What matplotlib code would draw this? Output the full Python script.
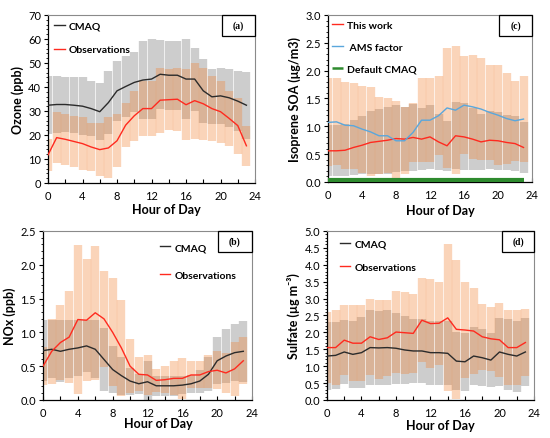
import numpy as np
import matplotlib
matplotlib.use('Agg')
import matplotlib.pyplot as plt
from matplotlib.patches import Rectangle
from matplotlib.ticker import MultipleLocator

plt.rcParams['font.family'] = ['Lato', 'DejaVu Sans']

hours = np.arange(24)

# (a) ozone, ppb
o3_cmaq = [32.4, 32.7, 32.7, 32.4, 32.0, 31.0, 29.7, 33.5, 38.4, 40.2, 41.9, 42.9,
           43.3, 45.3, 44.9, 44.9, 43.3, 43.3, 38.4, 35.9, 36.3, 35.5, 34.1, 32.4]
o3_cmaq_sd = [12.0, 11.7, 11.5, 11.7, 12.0, 11.6, 11.9, 13.2, 12.5, 12.8, 12.5, 16.3,
              16.7, 14.3, 14.4, 14.4, 16.7, 13.1, 13.2, 11.5, 11.8, 12.2, 12.6, 13.9]
o3_obs = [11.7, 18.9, 18.2, 17.3, 16.4, 15.0, 13.9, 14.6, 17.6, 24.1, 28.0, 31.0,
          31.0, 34.5, 34.7, 34.9, 32.6, 34.3, 33.0, 31.0, 29.7, 26.9, 23.9, 15.5]
o3_obs_sd = [6.5, 10.5, 10.5, 10.7, 10.9, 10.0, 11.0, 12.7, 11.1, 9.2, 10.4, 11.6,
             11.6, 13.5, 12.6, 13.1, 14.8, 15.9, 15.0, 13.6, 12.9, 11.5, 11.7, 8.4]

# (b) NOx, ppb
nox_cmaq = [0.73, 0.75, 0.72, 0.75, 0.77, 0.80, 0.75, 0.60, 0.45, 0.36, 0.28, 0.24,
            0.27, 0.21, 0.21, 0.21, 0.22, 0.24, 0.28, 0.38, 0.58, 0.65, 0.70, 0.72]
nox_cmaq_sd = [0.45, 0.43, 0.46, 0.43, 0.41, 0.38, 0.43, 0.47, 0.35, 0.28, 0.20, 0.15,
               0.30, 0.15, 0.15, 0.15, 0.13, 0.13, 0.17, 0.25, 0.35, 0.40, 0.42, 0.45]
nox_obs = [0.50, 0.72, 0.85, 0.93, 1.19, 1.18, 1.29, 1.20, 1.00, 0.77, 0.50, 0.38,
           0.37, 0.29, 0.30, 0.32, 0.32, 0.37, 0.37, 0.42, 0.44, 0.40, 0.46, 0.58]
nox_obs_sd = [0.28, 0.48, 0.55, 0.68, 1.10, 0.90, 0.99, 0.71, 0.80, 0.71, 0.40, 0.25,
              0.30, 0.17, 0.20, 0.25, 0.30, 0.20, 0.20, 0.25, 0.28, 0.30, 0.40, 0.35]

# (c) isoprene SOA, ug/m3
soa_this = [0.56, 0.56, 0.57, 0.62, 0.66, 0.71, 0.73, 0.75, 0.78, 0.77, 0.80, 0.77,
            0.81, 0.72, 0.65, 0.83, 0.81, 0.77, 0.72, 0.75, 0.74, 0.71, 0.69, 0.62]
soa_this_sd = [0.46, 0.46, 0.47, 0.50, 0.52, 0.56, 0.58, 0.60, 0.60, 0.58, 0.60, 0.55,
               0.58, 0.50, 0.45, 0.60, 0.60, 0.55, 0.50, 0.52, 0.52, 0.50, 0.50, 0.45]
soa_ams = [1.07, 1.08, 1.02, 1.01, 0.95, 0.90, 0.83, 0.83, 0.74, 0.74, 0.89, 1.11,
           1.11, 1.19, 1.33, 1.29, 1.38, 1.35, 1.31, 1.25, 1.20, 1.14, 1.10, 1.13]
soa_ams_sd = [0.79, 0.78, 0.78, 0.77, 0.78, 0.80, 0.69, 0.67, 0.71, 0.60, 0.53, 0.75,
              0.75, 0.71, 1.08, 1.15, 0.88, 0.94, 0.92, 0.85, 0.90, 0.82, 0.72, 0.77]
soa_default = [0.04] * 24

# (d) sulfate, ug/m3
so4_cmaq = [1.30, 1.32, 1.42, 1.35, 1.40, 1.55, 1.54, 1.55, 1.53, 1.48, 1.45, 1.45,
            1.40, 1.40, 1.38, 1.15, 1.13, 1.30, 1.25, 1.18, 1.42, 1.35, 1.30, 1.42]
so4_cmaq_sd = [1.00, 1.00, 0.95, 1.00, 1.05, 1.10, 1.10, 1.10, 1.05, 1.00, 0.95, 0.95,
               0.95, 0.95, 0.95, 0.85, 0.85, 0.85, 0.85, 0.80, 1.00, 1.05, 1.05, 1.00]
so4_obs = [1.55, 1.55, 1.77, 1.68, 1.68, 1.87, 1.79, 1.84, 2.01, 1.99, 1.97, 2.36,
           2.26, 2.27, 2.43, 2.09, 2.07, 2.04, 1.87, 1.81, 1.78, 1.55, 1.55, 1.70]
so4_obs_sd = [1.05, 1.10, 1.03, 1.12, 1.12, 1.13, 1.18, 1.13, 1.21, 1.21, 1.18, 1.24,
              1.32, 1.23, 2.17, 2.06, 1.43, 1.26, 0.98, 0.94, 1.09, 1.10, 1.10, 1.00]

GRAY = '#cdcdcd'
ORANGE = '#f18437'
BAR_LW = 6.0


def draw_panel(ax, model, model_sd, obs, obs_sd, ymax, ymajor, yminor):
    ax.errorbar(hours, model, yerr=model_sd, fmt='none', ecolor=GRAY,
                elinewidth=BAR_LW, capsize=0, zorder=1)
    ax.errorbar(hours, obs, yerr=obs_sd, fmt='none', ecolor=ORANGE,
                elinewidth=BAR_LW, capsize=0, alpha=0.35, zorder=2)
    ax.set_xlim(0, 24)
    ax.set_ylim(0, ymax)
    ax.xaxis.set_major_locator(MultipleLocator(4))
    ax.xaxis.set_minor_locator(MultipleLocator(2))
    ax.yaxis.set_major_locator(MultipleLocator(ymajor))
    ax.yaxis.set_minor_locator(MultipleLocator(yminor))
    ax.tick_params(axis='x', which='both', direction='in', length=3, width=0.8,
                   labelsize=8, pad=5, top=False)
    ax.tick_params(axis='y', which='major', direction='out', length=3, width=0.8,
                   labelsize=8, pad=2, right=False)
    ax.tick_params(axis='y', which='minor', direction='out', length=1.8, width=0.6,
                   right=False)
    for s in ['top', 'right']:
        ax.spines[s].set_color('#8a8a8a')
        ax.spines[s].set_linewidth(0.8)
    for s in ['left', 'bottom']:
        ax.spines[s].set_linewidth(0.9)
    ax.set_xlabel('Hour of Day', fontsize=9, fontweight='bold')


def tag(ax, text, w, h):
    ax.add_patch(Rectangle((1 - w, 1 - h), w, h, transform=ax.transAxes,
                           fill=False, lw=0.9, ec='black', clip_on=False, zorder=5))
    ax.text(1 - w / 2, 1 - h / 2, text, transform=ax.transAxes, ha='center',
            va='center', fontsize=7, fontweight='bold',
            family=['Liberation Serif', 'DejaVu Serif'], zorder=6)


fig = plt.figure(figsize=(5.5, 4.39), dpi=100)
ax_a = fig.add_axes([0.0873, 0.5809, 0.3764, 0.3827])
ax_c = fig.add_axes([0.5964, 0.5832, 0.3709, 0.3804])
ax_b = fig.add_axes([0.0782, 0.0866, 0.3800, 0.3850])
ax_d = fig.add_axes([0.5945, 0.0866, 0.3764, 0.3850])

leg_kw = dict(frameon=False, handlelength=1.0, handletextpad=0.4, borderpad=0,
              borderaxespad=0, prop={'weight': 'bold', 'size': 7.5})

# (a)
draw_panel(ax_a, o3_cmaq, o3_cmaq_sd, o3_obs, o3_obs_sd, 70, 10, 2)
ax_a.plot(hours, o3_cmaq, color='#2b2b2b', lw=1.0, label='CMAQ', zorder=3)
ax_a.plot(hours, o3_obs, color='#ff2a1f', lw=1.0, label='Observations', zorder=3)
ax_a.set_ylabel('Ozone (ppb)', fontsize=9, fontweight='bold', labelpad=3)
ax_a.legend(loc='upper left', bbox_to_anchor=(0.03, 0.96), labelspacing=1.35, **leg_kw)
ax_a.xaxis.set_label_coords(0.57, -0.12)
tag(ax_a, '(a)', 0.16, 0.125)

# (c)
draw_panel(ax_c, soa_this, soa_this_sd, soa_ams, soa_ams_sd, 3.0, 0.5, 0.1)
ax_c.plot(hours, soa_this, color='#ff2a1f', lw=1.0, label='This work', zorder=3)
ax_c.plot(hours, soa_ams, color='#5aa7dc', lw=1.0, label=' AMS factor', zorder=3)
ax_c.plot(hours, soa_default, color='#2e8b2e', lw=3.0, label='Default CMAQ',
          solid_capstyle='butt', zorder=3)
ax_c.set_ylabel('Isoprene SOA (μg/m3)', fontsize=9, fontweight='bold', labelpad=3)
leg_c = ax_c.legend(loc='upper left', bbox_to_anchor=(0.02, 0.965), labelspacing=1.2,
                    **leg_kw)
leg_c.get_lines()[2].set_linewidth(1.8)
ax_c.xaxis.set_label_coords(0.55, -0.13)
tag(ax_c, '(c)', 0.162, 0.126)

# (b)
draw_panel(ax_b, nox_cmaq, nox_cmaq_sd, nox_obs, nox_obs_sd, 2.5, 0.5, 0.1)
ax_b.plot(hours, nox_cmaq, color='#2b2b2b', lw=1.0, label='CMAQ', zorder=3)
ax_b.plot(hours, nox_obs, color='#ff2a1f', lw=1.0, label='Observations', zorder=3)
ax_b.set_ylabel('NOx (ppb)', fontsize=9, fontweight='bold', labelpad=3)
ax_b.legend(loc='upper left', bbox_to_anchor=(0.56, 0.93), labelspacing=1.8, **leg_kw)
ax_b.xaxis.set_label_coords(0.55, -0.10)
tag(ax_b, '(b)', 0.163, 0.124)

# (d)
draw_panel(ax_d, so4_cmaq, so4_cmaq_sd, so4_obs, so4_obs_sd, 5.0, 0.5, 0.1)
ax_d.plot(hours, so4_cmaq, color='#2b2b2b', lw=1.0, label='CMAQ', zorder=3)
ax_d.plot(hours, so4_obs, color='#ff2a1f', lw=1.0, label='Observations', zorder=3)
ax_d.set_ylabel('Sulfate (µg m⁻³)', fontsize=9, fontweight='bold', labelpad=3)
ax_d.legend(loc='upper left', bbox_to_anchor=(0.063, 0.95), labelspacing=1.35, **leg_kw)
ax_d.xaxis.set_label_coords(0.55, -0.11)
tag(ax_d, '(d)', 0.155, 0.124)

fig.savefig('out.png', dpi=100)
